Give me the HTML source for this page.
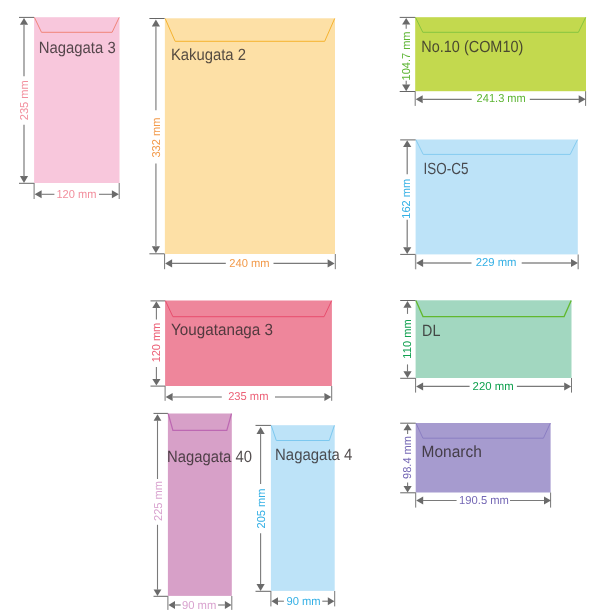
<!DOCTYPE html>
<html lang="en">
<head>
<meta charset="utf-8">
<title>Envelope sizes</title>
<style>
html,body{margin:0;padding:0;background:#fff;}
svg{display:block;will-change:transform;font-family:'Liberation Sans', sans-serif;}
</style>
</head>
<body>
<svg width="602" height="613" viewBox="0 0 602 613" font-family='"Liberation Sans", sans-serif' text-rendering="geometricPrecision">
<rect width="602" height="613" fill="#ffffff"/>
<rect x="34.1" y="17.2" width="85.4" height="165.8" fill="#f8c7dc"/>
<polyline points="34.4,17.4 41.5,32.3 112.1,32.3 119.2,17.4" fill="none" stroke="#f0857a" stroke-width="1.0" stroke-linejoin="miter"/>
<text x="38.7" y="52.8" font-size="16.2" fill="#2e2829" fill-opacity="0.82" textLength="77" lengthAdjust="spacingAndGlyphs">Nagagata 3</text>
<line x1="19" y1="17.4" x2="34.1" y2="17.4" stroke="#666" stroke-width="1.0"/>
<line x1="19" y1="183.3" x2="34.1" y2="183.3" stroke="#666" stroke-width="1.0"/>
<polygon points="24,17.9 19.9,24.8 28.1,24.8" fill="#6a6a6a"/>
<polygon points="24,183 19.9,176.1 28.1,176.1" fill="#6a6a6a"/>
<line x1="24" y1="24.5" x2="24" y2="76.3" stroke="#8e8e8e" stroke-width="1.4"/>
<line x1="24" y1="124.8" x2="24" y2="176.4" stroke="#8e8e8e" stroke-width="1.4"/>
<text transform="translate(27.9,120.2) rotate(-90)" font-size="11.5" fill="#f28f9d" textLength="40" lengthAdjust="spacingAndGlyphs">235 mm</text>
<line x1="34.1" y1="183" x2="34.1" y2="199" stroke="#777" stroke-width="1.0"/>
<line x1="119.2" y1="183" x2="119.2" y2="199" stroke="#777" stroke-width="1.0"/>
<polygon points="34.6,194.3 41.6,190.3 41.6,198.3" fill="#6a6a6a"/>
<polygon points="118.9,194.3 111.9,190.3 111.9,198.3" fill="#6a6a6a"/>
<line x1="41.3" y1="194.3" x2="54.4" y2="194.3" stroke="#7a7a7a" stroke-width="1.1"/>
<line x1="99" y1="194.3" x2="112.2" y2="194.3" stroke="#7a7a7a" stroke-width="1.1"/>
<text x="56.4" y="198.2" font-size="11.5" fill="#f28f9d" textLength="40" lengthAdjust="spacingAndGlyphs">120 mm</text>
<rect x="164.85" y="18.3" width="170.15" height="235.7" fill="#fde0a6"/>
<polyline points="165.15,18.5 175.15,41.3 324.7,41.3 334.7,18.5" fill="none" stroke="#f5b330" stroke-width="1.0" stroke-linejoin="miter"/>
<text x="170.9" y="60.3" font-size="16.2" fill="#2e2829" fill-opacity="0.82" textLength="75" lengthAdjust="spacingAndGlyphs">Kakugata 2</text>
<line x1="149.4" y1="18.5" x2="164.6" y2="18.5" stroke="#666" stroke-width="1.0"/>
<line x1="149.4" y1="253.8" x2="164.6" y2="253.8" stroke="#666" stroke-width="1.0"/>
<polygon points="155.9,19.5 151.8,26.4 160,26.4" fill="#6a6a6a"/>
<polygon points="155.9,253.2 151.8,246.3 160,246.3" fill="#6a6a6a"/>
<line x1="155.9" y1="26.1" x2="155.9" y2="110.2" stroke="#9a9a9a" stroke-width="1.5"/>
<line x1="155.9" y1="163.5" x2="155.9" y2="246.6" stroke="#9a9a9a" stroke-width="1.5"/>
<text transform="translate(159.8,157.6) rotate(-90)" font-size="11.5" fill="#f29a4a" textLength="40" lengthAdjust="spacingAndGlyphs">332 mm</text>
<line x1="164.6" y1="254" x2="164.6" y2="269.2" stroke="#777" stroke-width="1.0"/>
<line x1="335.3" y1="254" x2="335.3" y2="269.2" stroke="#777" stroke-width="1.0"/>
<polygon points="165.1,263.4 172.1,259.3 172.1,267.5" fill="#6a6a6a"/>
<polygon points="334.6,263.4 327.6,259.3 327.6,267.5" fill="#6a6a6a"/>
<line x1="171.8" y1="263.4" x2="225.8" y2="263.4" stroke="#7a7a7a" stroke-width="1.1"/>
<line x1="273.5" y1="263.4" x2="327.9" y2="263.4" stroke="#7a7a7a" stroke-width="1.1"/>
<text x="229.35" y="267" font-size="11.5" fill="#f29a4a" textLength="40.3" lengthAdjust="spacingAndGlyphs">240 mm</text>
<rect x="415.2" y="17.2" width="170.8" height="74" fill="#c3d94e"/>
<polyline points="415.5,17.4 422.8,32.3 578.4,32.3 585.7,17.4" fill="none" stroke="#86c540" stroke-width="1.0" stroke-linejoin="miter"/>
<text x="421.3" y="51.7" font-size="16.2" fill="#2e2829" fill-opacity="0.82" textLength="102" lengthAdjust="spacingAndGlyphs">No.10 (COM10)</text>
<line x1="399.7" y1="17.4" x2="415.2" y2="17.4" stroke="#666" stroke-width="1.0"/>
<line x1="399.7" y1="91.5" x2="415.2" y2="91.5" stroke="#666" stroke-width="1.0"/>
<polygon points="406.2,17.9 402.1,24.6 410.3,24.6" fill="#6a6a6a"/>
<polygon points="406.2,91.2 402.1,84.5 410.3,84.5" fill="#6a6a6a"/>
<line x1="406.2" y1="24.3" x2="406.2" y2="28.7" stroke="#7a7a7a" stroke-width="1.1"/>
<line x1="406.2" y1="80.7" x2="406.2" y2="84.8" stroke="#7a7a7a" stroke-width="1.1"/>
<text transform="translate(409.8,80.5) rotate(-90)" font-size="11.5" fill="#5db534" textLength="49" lengthAdjust="spacingAndGlyphs">104.7 mm</text>
<line x1="415.2" y1="91.2" x2="415.2" y2="105.9" stroke="#777" stroke-width="1.0"/>
<line x1="585.6" y1="91.2" x2="585.6" y2="105.9" stroke="#777" stroke-width="1.0"/>
<polygon points="415.7,99.35 422.7,95.35 422.7,103.35" fill="#6a6a6a"/>
<polygon points="585.7,99.35 578.7,95.35 578.7,103.35" fill="#6a6a6a"/>
<line x1="422.4" y1="99.35" x2="471.7" y2="99.35" stroke="#7a7a7a" stroke-width="1.1"/>
<line x1="529.8" y1="99.35" x2="579" y2="99.35" stroke="#7a7a7a" stroke-width="1.1"/>
<text x="476.6" y="102.3" font-size="11.5" fill="#5db534" textLength="49.2" lengthAdjust="spacingAndGlyphs">241.3 mm</text>
<rect x="415.6" y="139.5" width="162.2" height="114.9" fill="#bde3f8"/>
<polyline points="415.9,139.7 423.2,154.4 570.2,154.4 577.5,139.7" fill="none" stroke="#86ccf0" stroke-width="1.0" stroke-linejoin="miter"/>
<text x="423.6" y="173.7" font-size="16.2" fill="#2e2829" fill-opacity="0.82" textLength="44.8" lengthAdjust="spacingAndGlyphs">ISO-C5</text>
<line x1="400.2" y1="139.9" x2="415.6" y2="139.9" stroke="#666" stroke-width="1.0"/>
<line x1="400.2" y1="254.4" x2="415.6" y2="254.4" stroke="#666" stroke-width="1.0"/>
<polygon points="407.2,140.2 403.1,147.1 411.3,147.1" fill="#6a6a6a"/>
<polygon points="407.2,254.1 403.1,247.2 411.3,247.2" fill="#6a6a6a"/>
<line x1="407.2" y1="146.8" x2="407.2" y2="174.2" stroke="#7a7a7a" stroke-width="1.2"/>
<line x1="407.2" y1="219.7" x2="407.2" y2="247.5" stroke="#7a7a7a" stroke-width="1.2"/>
<text transform="translate(410.2,218.7) rotate(-90)" font-size="11.5" fill="#35b0e5" textLength="40" lengthAdjust="spacingAndGlyphs">162 mm</text>
<line x1="415.6" y1="254.4" x2="415.6" y2="269.3" stroke="#999" stroke-width="1.4"/>
<line x1="578.2" y1="254.4" x2="578.2" y2="269.3" stroke="#999" stroke-width="1.4"/>
<polygon points="416.1,263 423.1,259 423.1,267" fill="#6a6a6a"/>
<polygon points="578,263 571,259 571,267" fill="#6a6a6a"/>
<line x1="422.8" y1="263" x2="471.5" y2="263" stroke="#8c8c8c" stroke-width="1.4"/>
<line x1="521.7" y1="263" x2="571.3" y2="263" stroke="#8c8c8c" stroke-width="1.4"/>
<text x="475.7" y="266.4" font-size="11.5" fill="#35b0e5" textLength="40.8" lengthAdjust="spacingAndGlyphs">229 mm</text>
<rect x="415.6" y="300.3" width="155.9" height="77.7" fill="#a2d7c0"/>
<polyline points="415.9,300.5 423,316.6 564.1,316.6 571.2,300.5" fill="none" stroke="#62b82e" stroke-width="1.3" stroke-linejoin="miter"/>
<text x="422.1" y="335.6" font-size="16.2" fill="#2e2829" fill-opacity="0.82" textLength="18.3" lengthAdjust="spacingAndGlyphs">DL</text>
<line x1="400.2" y1="300.5" x2="415.6" y2="300.5" stroke="#666" stroke-width="1.0"/>
<line x1="400.2" y1="378.3" x2="415.6" y2="378.3" stroke="#666" stroke-width="1.0"/>
<polygon points="407.5,301 403.4,307.7 411.6,307.7" fill="#6a6a6a"/>
<polygon points="407.5,378 403.4,371.3 411.6,371.3" fill="#6a6a6a"/>
<line x1="407.5" y1="307.4" x2="407.5" y2="313.9" stroke="#7a7a7a" stroke-width="1.1"/>
<line x1="407.5" y1="364.4" x2="407.5" y2="371.6" stroke="#7a7a7a" stroke-width="1.1"/>
<text transform="translate(410.8,358.65) rotate(-90)" font-size="11.5" fill="#11a150" textLength="39.3" lengthAdjust="spacingAndGlyphs">110 mm</text>
<line x1="415.6" y1="378" x2="415.6" y2="392.6" stroke="#777" stroke-width="1.0"/>
<line x1="571.5" y1="378" x2="571.5" y2="392.6" stroke="#777" stroke-width="1.0"/>
<polygon points="416.1,386.4 423.1,382.4 423.1,390.4" fill="#6a6a6a"/>
<polygon points="571.2,386.4 564.2,382.4 564.2,390.4" fill="#6a6a6a"/>
<line x1="422.8" y1="386.4" x2="469.6" y2="386.4" stroke="#7a7a7a" stroke-width="1.1"/>
<line x1="516.9" y1="386.4" x2="564.5" y2="386.4" stroke="#7a7a7a" stroke-width="1.1"/>
<text x="472.6" y="389.6" font-size="11.5" fill="#0fa04e" textLength="41" lengthAdjust="spacingAndGlyphs">220 mm</text>
<rect x="415.7" y="423" width="134.9" height="69.5" fill="#a69bcf"/>
<polyline points="416,423.2 422.9,438.2 543.4,438.2 550.3,423.2" fill="none" stroke="#8b7ec3" stroke-width="1.0" stroke-linejoin="miter"/>
<text x="421.6" y="456.7" font-size="16.2" fill="#2e2829" fill-opacity="0.82" textLength="60.2" lengthAdjust="spacingAndGlyphs">Monarch</text>
<line x1="400.2" y1="423.2" x2="415.7" y2="423.2" stroke="#666" stroke-width="1.0"/>
<line x1="400.2" y1="492.8" x2="415.7" y2="492.8" stroke="#666" stroke-width="1.0"/>
<polygon points="407.6,423.7 403.5,430.3 411.7,430.3" fill="#6a6a6a"/>
<polygon points="407.6,492.5 403.5,485.9 411.7,485.9" fill="#6a6a6a"/>
<line x1="407.6" y1="430" x2="407.6" y2="433.9" stroke="#7a7a7a" stroke-width="1.1"/>
<line x1="407.6" y1="482.4" x2="407.6" y2="486.2" stroke="#7a7a7a" stroke-width="1.1"/>
<text transform="translate(410.9,478.9) rotate(-90)" font-size="11.5" fill="#7568b5" textLength="42.8" lengthAdjust="spacingAndGlyphs">98.4 mm</text>
<line x1="415.7" y1="492.5" x2="415.7" y2="507.6" stroke="#777" stroke-width="1.0"/>
<line x1="550.6" y1="492.5" x2="550.6" y2="507.6" stroke="#777" stroke-width="1.0"/>
<polygon points="416.2,500.5 423.2,496.5 423.2,504.5" fill="#6a6a6a"/>
<polygon points="551,500.5 544,496.5 544,504.5" fill="#6a6a6a"/>
<line x1="422.9" y1="500.5" x2="456.6" y2="500.5" stroke="#7a7a7a" stroke-width="1.1"/>
<line x1="510" y1="500.5" x2="544.3" y2="500.5" stroke="#7a7a7a" stroke-width="1.1"/>
<text x="459.1" y="503.6" font-size="11.5" fill="#7568b5" textLength="49.8" lengthAdjust="spacingAndGlyphs">190.5 mm</text>
<rect x="165.1" y="300.5" width="166.8" height="85.5" fill="#ee869b"/>
<polyline points="165.4,300.7 172.9,316.7 324.1,316.7 331.6,300.7" fill="none" stroke="#e84e6e" stroke-width="1.0" stroke-linejoin="miter"/>
<text x="171.1" y="334.9" font-size="16.2" fill="#2e2829" fill-opacity="0.82" textLength="101.9" lengthAdjust="spacingAndGlyphs">Yougatanaga 3</text>
<line x1="150.5" y1="300.9" x2="165.1" y2="300.9" stroke="#666" stroke-width="1.0"/>
<line x1="150.5" y1="386.1" x2="165.1" y2="386.1" stroke="#666" stroke-width="1.0"/>
<polygon points="156.4,301.2 152.3,307.9 160.5,307.9" fill="#6a6a6a"/>
<polygon points="156.4,385.6 152.3,378.9 160.5,378.9" fill="#6a6a6a"/>
<line x1="156.4" y1="307.6" x2="156.4" y2="319.4" stroke="#7a7a7a" stroke-width="1.1"/>
<line x1="156.4" y1="367.1" x2="156.4" y2="379.2" stroke="#7a7a7a" stroke-width="1.1"/>
<text transform="translate(159.7,362.35) rotate(-90)" font-size="11.5" fill="#ec6278" textLength="39.5" lengthAdjust="spacingAndGlyphs">120 mm</text>
<line x1="165.1" y1="386" x2="165.1" y2="400.8" stroke="#777" stroke-width="1.0"/>
<line x1="331.7" y1="386" x2="331.7" y2="400.8" stroke="#777" stroke-width="1.0"/>
<polygon points="165.6,397 172.6,393 172.6,401" fill="#6a6a6a"/>
<polygon points="331.4,397 324.4,393 324.4,401" fill="#6a6a6a"/>
<line x1="172.3" y1="397" x2="221.8" y2="397" stroke="#9a9a9a" stroke-width="1.4"/>
<line x1="275" y1="397" x2="324.7" y2="397" stroke="#9a9a9a" stroke-width="1.4"/>
<text x="228.15" y="400.4" font-size="11.5" fill="#ec6278" textLength="40.3" lengthAdjust="spacingAndGlyphs">235 mm</text>
<rect x="167.9" y="413.5" width="63.9" height="182.4" fill="#d7a0c8"/>
<polyline points="168.2,413.7 172.9,430.3 226.8,430.3 231.5,413.7" fill="none" stroke="#bc68b2" stroke-width="1.25" stroke-linejoin="miter"/>
<text x="167.1" y="462.3" font-size="16.2" fill="#2e2829" fill-opacity="0.82" textLength="84.8" lengthAdjust="spacingAndGlyphs">Nagagata 40</text>
<line x1="153.5" y1="413.4" x2="167.9" y2="413.4" stroke="#666" stroke-width="1.0"/>
<line x1="153.5" y1="596.3" x2="167.9" y2="596.3" stroke="#666" stroke-width="1.0"/>
<polygon points="157.5,414.2 153.6,420.7 161.4,420.7" fill="#6a6a6a"/>
<polygon points="157.5,595.9 153.6,589.4 161.4,589.4" fill="#6a6a6a"/>
<line x1="157.5" y1="420.4" x2="157.5" y2="479" stroke="#7a7a7a" stroke-width="1.1"/>
<line x1="157.5" y1="524.8" x2="157.5" y2="589.7" stroke="#7a7a7a" stroke-width="1.1"/>
<text transform="translate(161.7,521) rotate(-90)" font-size="11.5" fill="#d9a3cf" textLength="40" lengthAdjust="spacingAndGlyphs">225 mm</text>
<line x1="167.9" y1="596" x2="167.9" y2="609.9" stroke="#777" stroke-width="1.0"/>
<line x1="231.8" y1="596" x2="231.8" y2="609.9" stroke="#777" stroke-width="1.0"/>
<polygon points="168.4,605 175,601 175,609" fill="#6a6a6a"/>
<polygon points="231.5,605 224.9,601 224.9,609" fill="#6a6a6a"/>
<line x1="174.7" y1="605" x2="180.7" y2="605" stroke="#a0a0a0" stroke-width="1.6"/>
<line x1="218.1" y1="605" x2="225.2" y2="605" stroke="#a0a0a0" stroke-width="1.6"/>
<text x="181.9" y="608.8" font-size="11.5" fill="#d9a3cf" textLength="34.4" lengthAdjust="spacingAndGlyphs">90 mm</text>
<rect x="270.9" y="425.2" width="63.8" height="165.7" fill="#bde3f8"/>
<polyline points="271.2,425.4 276.3,440.5 329.3,440.5 334.4,425.4" fill="none" stroke="#7cc8ef" stroke-width="1.0" stroke-linejoin="miter"/>
<text x="275.1" y="459.6" font-size="16.2" fill="#2e2829" fill-opacity="0.82" textLength="77.2" lengthAdjust="spacingAndGlyphs">Nagagata 4</text>
<line x1="255.5" y1="425.4" x2="270.9" y2="425.4" stroke="#666" stroke-width="1.0"/>
<line x1="255.5" y1="591.3" x2="270.9" y2="591.3" stroke="#666" stroke-width="1.0"/>
<polygon points="260.6,427 256.5,433.9 264.7,433.9" fill="#6a6a6a"/>
<polygon points="260.6,590.9 256.5,584 264.7,584" fill="#6a6a6a"/>
<line x1="260.6" y1="433.6" x2="260.6" y2="484.1" stroke="#7a7a7a" stroke-width="1.1"/>
<line x1="260.6" y1="533.3" x2="260.6" y2="584.3" stroke="#7a7a7a" stroke-width="1.1"/>
<text transform="translate(264.8,528.4) rotate(-90)" font-size="11.5" fill="#35b0e5" textLength="39.8" lengthAdjust="spacingAndGlyphs">205 mm</text>
<line x1="270.9" y1="591" x2="270.9" y2="606.4" stroke="#777" stroke-width="1.0"/>
<line x1="334.7" y1="591" x2="334.7" y2="606.4" stroke="#777" stroke-width="1.0"/>
<polygon points="271.4,601.2 278,597.2 278,605.2" fill="#6a6a6a"/>
<polygon points="334.4,601.2 327.8,597.2 327.8,605.2" fill="#6a6a6a"/>
<line x1="277.7" y1="601.2" x2="283.9" y2="601.2" stroke="#7a7a7a" stroke-width="1.1"/>
<line x1="322.3" y1="601.2" x2="328.1" y2="601.2" stroke="#7a7a7a" stroke-width="1.1"/>
<text x="286.5" y="604.6" font-size="11.5" fill="#35b0e5" textLength="34.2" lengthAdjust="spacingAndGlyphs">90 mm</text>
</svg>
</body>
</html>
